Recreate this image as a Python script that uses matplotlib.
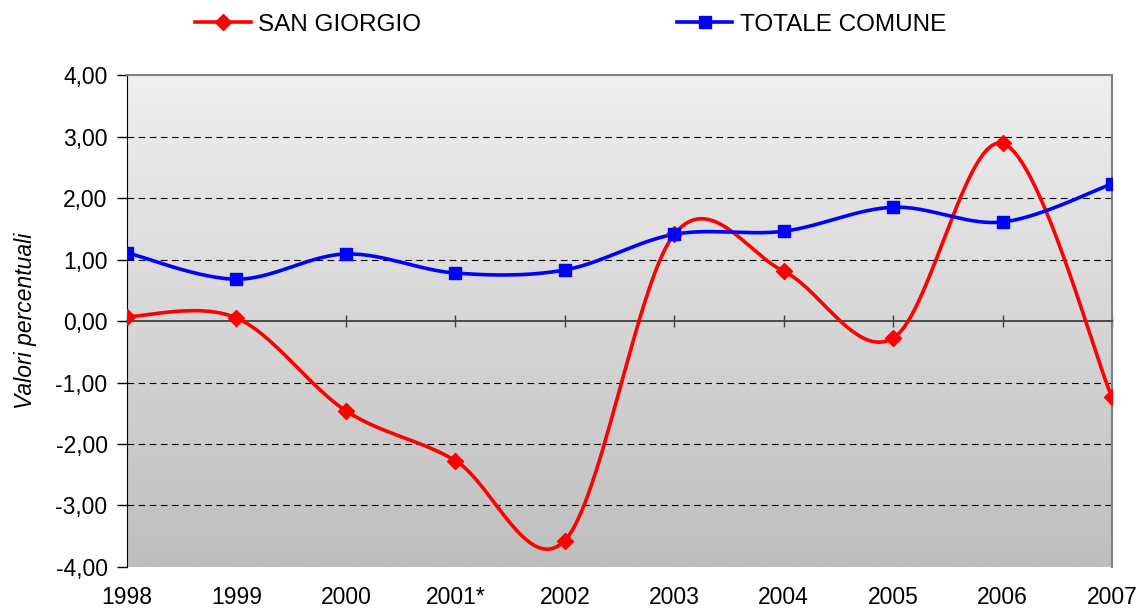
import numpy as np
import matplotlib.pyplot as plt
from matplotlib.lines import Line2D
from matplotlib.colors import LinearSegmentedColormap

plt.rcParams['font.family'] = ['Liberation Sans', 'DejaVu Sans']

years = ["1998", "1999", "2000", "2001*", "2002", "2003", "2004", "2005", "2006", "2007"]
san_giorgio = [0.07, 0.05, -1.46, -2.27, -3.57, 1.41, 0.81, -0.28, 2.89, -1.24]
totale_comune = [1.11, 0.68, 1.09, 0.78, 0.83, 1.41, 1.46, 1.85, 1.61, 2.23]


def smooth(xs, ys, n=30):
    # Excel-style smoothed line: cubic bezier with catmull-rom tangents
    p = np.column_stack([xs, ys]).astype(float)
    out = []
    for i in range(len(p) - 1):
        p0 = p[i - 1] if i > 0 else p[i]
        p1, p2 = p[i], p[i + 1]
        p3 = p[i + 2] if i + 2 < len(p) else p[i + 1]
        c1 = p1 + (p2 - p0) / 6
        c2 = p2 - (p3 - p1) / 6
        t = np.linspace(0, 1, n)[:, None]
        seg = (1 - t) ** 3 * p1 + 3 * (1 - t) ** 2 * t * c1 + 3 * (1 - t) * t ** 2 * c2 + t ** 3 * p2
        out.append(seg if i == 0 else seg[1:])
    out = np.vstack(out)
    return out[:, 0], out[:, 1]


x = np.arange(len(years))

fig = plt.figure(figsize=(11.4, 6.1), dpi=100)
ax = fig.add_axes([0.1114, 0.0705, 0.864, 0.8065])

# gray gradient background
bg = LinearSegmentedColormap.from_list("bg", ["#efefef", "#bebebe"])
grad = np.linspace(0, 1, 256)[:, None]
ax.imshow(grad, extent=[0, 9, -4, 4], aspect='auto', cmap=bg,
          origin='upper', zorder=0)

ax.set_xlim(0, 9)
ax.set_ylim(-4, 4)

for v in [-3, -2, -1, 1, 2, 3]:
    ax.axhline(v, color='black', lw=0.8, ls=(0, (6, 4)), zorder=1)

sx, sy = smooth(x, san_giorgio)
ax.plot(sx, sy, color='#ff0000', lw=2.6, zorder=3, solid_capstyle='round')
ax.plot(x, san_giorgio, ls='none', marker='D', ms=8, color='#ff0000', zorder=4)

tx, ty = smooth(x, totale_comune)
ax.plot(tx, ty, color='#0000ff', lw=2.6, zorder=3, solid_capstyle='round')
ax.plot(x, totale_comune, ls='none', marker='s', ms=8.5, color='#0000ff', zorder=4)

# spines
ax.spines['top'].set_color('#808080')
ax.spines['right'].set_color('#808080')
ax.spines['top'].set_linewidth(1.5)
ax.spines['right'].set_linewidth(1.5)
ax.spines['left'].set_color('black')
ax.spines['bottom'].set_position(('data', 0))
ax.spines['bottom'].set_color('#404040')
ax.spines['bottom'].set_linewidth(1.3)

ax.set_yticks(np.arange(-4, 5, 1))
ax.set_yticklabels([f"{v:.2f}".replace('.', ',') for v in np.arange(-4, 5, 1)])
ax.tick_params(axis='y', direction='out', length=7, width=1, labelsize=16.5, pad=7)

ax.set_xticks(x)
ax.tick_params(axis='x', direction='inout', length=9, width=1, color='#404040', labelbottom=False)

sec = ax.secondary_xaxis(0.0)
sec.set_xticks(x)
sec.set_xticklabels(years)
sec.tick_params(length=0, labelsize=16.5, pad=14)
sec.spines['bottom'].set_visible(False)

ax.set_ylabel("Valori percentuali", style='italic', fontsize=16.5)
ax.yaxis.set_label_coords(-0.091, 0.5)

handles = [
    Line2D([], [], color='#ff0000', lw=2.6, marker='D', ms=8),
    Line2D([], [], color='#0000ff', lw=2.6, marker='s', ms=8.5),
]
fig.legend(handles, ["SAN GIORGIO", "TOTALE COMUNE"], loc='upper left',
           bbox_to_anchor=(0.152, 1.013), ncol=2, frameon=False, fontsize=17.5,
           handlelength=2.3, handletextpad=0.3, columnspacing=10.5)

fig.savefig("out.png", dpi=100)
